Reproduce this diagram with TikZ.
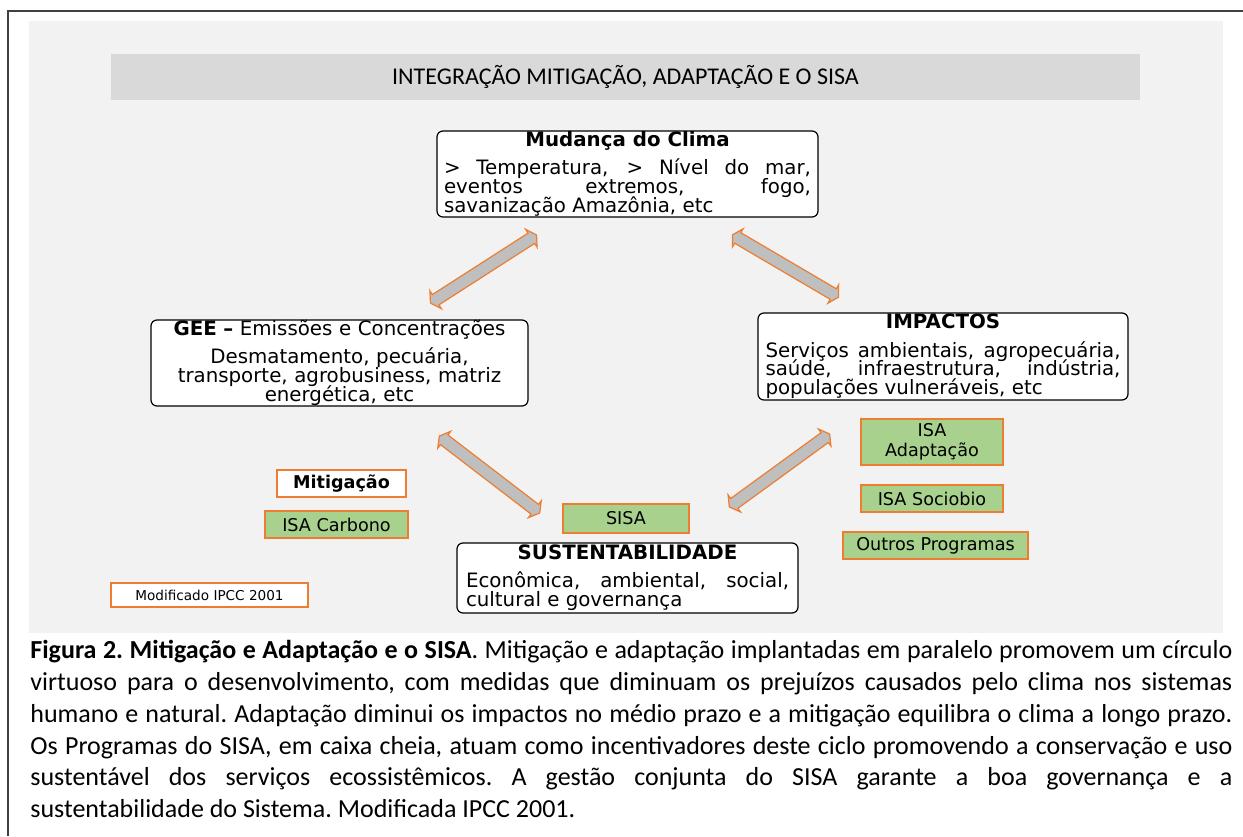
\documentclass[tikz,border=0pt]{standalone}
\usepackage{fontspec}
\setmainfont{Carlito}
\newfontfamily\boxfont{DejaVu Sans}
\usetikzlibrary{shapes.arrows}
\setlength\parindent{0pt}
\definecolor{panelgray}{HTML}{F2F2F2}
\definecolor{bargray}{HTML}{D9D9D9}
\definecolor{isagreen}{HTML}{A9D18E}
\definecolor{isaorange}{HTML}{ED7D31}
\definecolor{arrowgray}{HTML}{BFBFBF}
\definecolor{framegray}{HTML}{404040}
\newcommand\Shaft[1]{\phantom{\rule{#1}{5.5pt}}}
\newcommand\Just[1]{\makebox[\hsize][s]{#1}}
\newcommand\tightlines{\lineskiplimit=-5pt\relax}

\begin{document}
\begin{tikzpicture}[x=0.5pt,y=-0.5pt,
	bigbox/.style={draw,rounded corners=3pt,fill=white,line width=0.6pt,inner sep=0pt,
		font=\boxfont\fontsize{9.9}{9.4}\selectfont,execute at begin node=\tightlines},
	isabox/.style={draw=isaorange,fill=isagreen,line width=0.6pt,inner sep=0pt,
		align=center,font=\boxfont\fontsize{8.8}{10}\selectfont},
	notebox/.style={isabox,fill=white},
	blockarrow/.style={double arrow,draw=isaorange,fill=arrowgray,line width=0.6pt,
		inner sep=0pt,double arrow head extend=2.25pt,double arrow tip angle=120,sloped}]
	
	\useasboundingbox (0,0) rectangle (1243,836);
	% frame and grey panel
	\draw[framegray,line width=1pt] (8,836) -- (8,11) -- (1243,11);
	\fill[panelgray] (29,21) rectangle (1223,633);
	
	% title bar
	\node[fill=bargray,minimum width=514.5pt,minimum height=23pt,inner sep=0pt,
		font=\fontsize{12}{14}\selectfont] (titlebar) at (625.5,77)
		{INTEGRAÇÃO MITIGAÇÃO, ADAPTAÇÃO E O SISA};
	
	% the four main boxes
	\node[bigbox,minimum width=190.5pt,minimum height=43pt,text width=183.5pt,align=justify]
		(clima) at (627.5,174) {{\centering\bfseries Mudança do Clima\par}\vspace{4.7pt}
		\Just{> Temperatura, > Nível do mar,}\par
		\Just{eventos extremos, fogo,}\par
		savanização Amazônia, etc};
	\node[bigbox,minimum width=188.5pt,minimum height=43pt,text width=185pt,align=center]
		(gee) at (339.5,363) {{\bfseries GEE –} Emissões e Concentrações\par\vspace{4.7pt}
		Desmatamento, pecuária,\\ transporte, agrobusiness, matriz\\ energética, etc};
	\node[bigbox,minimum width=185pt,minimum height=43.5pt,text width=177.5pt,align=justify]
		(impactos) at (943,356.5) {{\centering\bfseries IMPACTOS\par}\vspace{4.7pt}
		\Just{Serviços ambientais, agropecuária,}\par
		\Just{saúde, infraestrutura, indústria,}\par
		populações vulneráveis, etc};
	\node[bigbox,minimum width=170.5pt,minimum height=35pt,text width=161.5pt,align=justify]
		(sust) at (627.5,578) {{\centering\bfseries SUSTENTABILIDADE\par}\vspace{4.7pt}
		\Just{Econômica, ambiental, social,}\par
		cultural e governança};
	
	% programme boxes
	\node[notebox,minimum width=64.5pt,minimum height=13.5pt] (mitig) at (341.5,483.5)
		{\bfseries Mitigação};
	\node[isabox,minimum width=71.5pt,minimum height=13.5pt] (carbono) at (336.5,524.5)
		{ISA Carbono};
	\node[notebox,minimum width=98.5pt,minimum height=12pt,
		font=\boxfont\fontsize{6.8}{8}\selectfont] (modif) at (209.5,595)
		{Modificado IPCC 2001};
	\node[isabox,minimum width=63pt,minimum height=14.5pt] (sisa) at (626,518.5) {SISA};
	\node[isabox,minimum width=71pt,minimum height=23pt] (adapt) at (932,442)
		{ISA\\ Adaptação};
	\node[isabox,minimum width=71pt,minimum height=13.5pt] (sociobio) at (932,498.5)
		{ISA Sociobio};
	\node[isabox,minimum width=92.5pt,minimum height=13.5pt] (outros) at (935.5,545.5)
		{Outros Programas};
	
	% ends of the double arrows
	\coordinate (a1) at (429,304);
	\coordinate (a2) at (538,234);
	\coordinate (b1) at (731,234);
	\coordinate (b2) at (840,298);
	\coordinate (c1) at (438,435);
	\coordinate (c2) at (541,514);
	\coordinate (d1) at (728,508);
	\coordinate (d2) at (831,433);
	\foreach \s/\t/\len in {a1/a2/58.9pt,b1/b2/57.4pt,c1/c2/59.1pt,d1/d2/57.9pt}
	\path (\s) -- node[blockarrow] {\Shaft{\len}} (\t);
	
	% caption
	\node[anchor=north west,inner sep=0pt,text width=601pt,align=justify,
		font=\fontsize{13}{15.9}\selectfont\frenchspacing] (caption) at (30,640)
		{\textbf{Figura 2. Mitigação e Adaptação e o SISA}. Mitigação e adaptação implantadas em paralelo promovem um círculo\linebreak
		virtuoso para o desenvolvimento, com medidas que diminuam os prejuízos causados pelo clima nos sistemas\linebreak
		humano e natural. Adaptação diminui os impactos no médio prazo e a mitigação equilibra o clima a longo prazo.\linebreak
		Os Programas do SISA, em caixa cheia, atuam como incentivadores deste ciclo promovendo a conservação e uso\linebreak
		sustentável dos serviços ecossistêmicos. A gestão conjunta do SISA garante a boa governança e a\linebreak
		sustentabilidade do Sistema. Modificada IPCC 2001.};
\end{tikzpicture}
\end{document}
